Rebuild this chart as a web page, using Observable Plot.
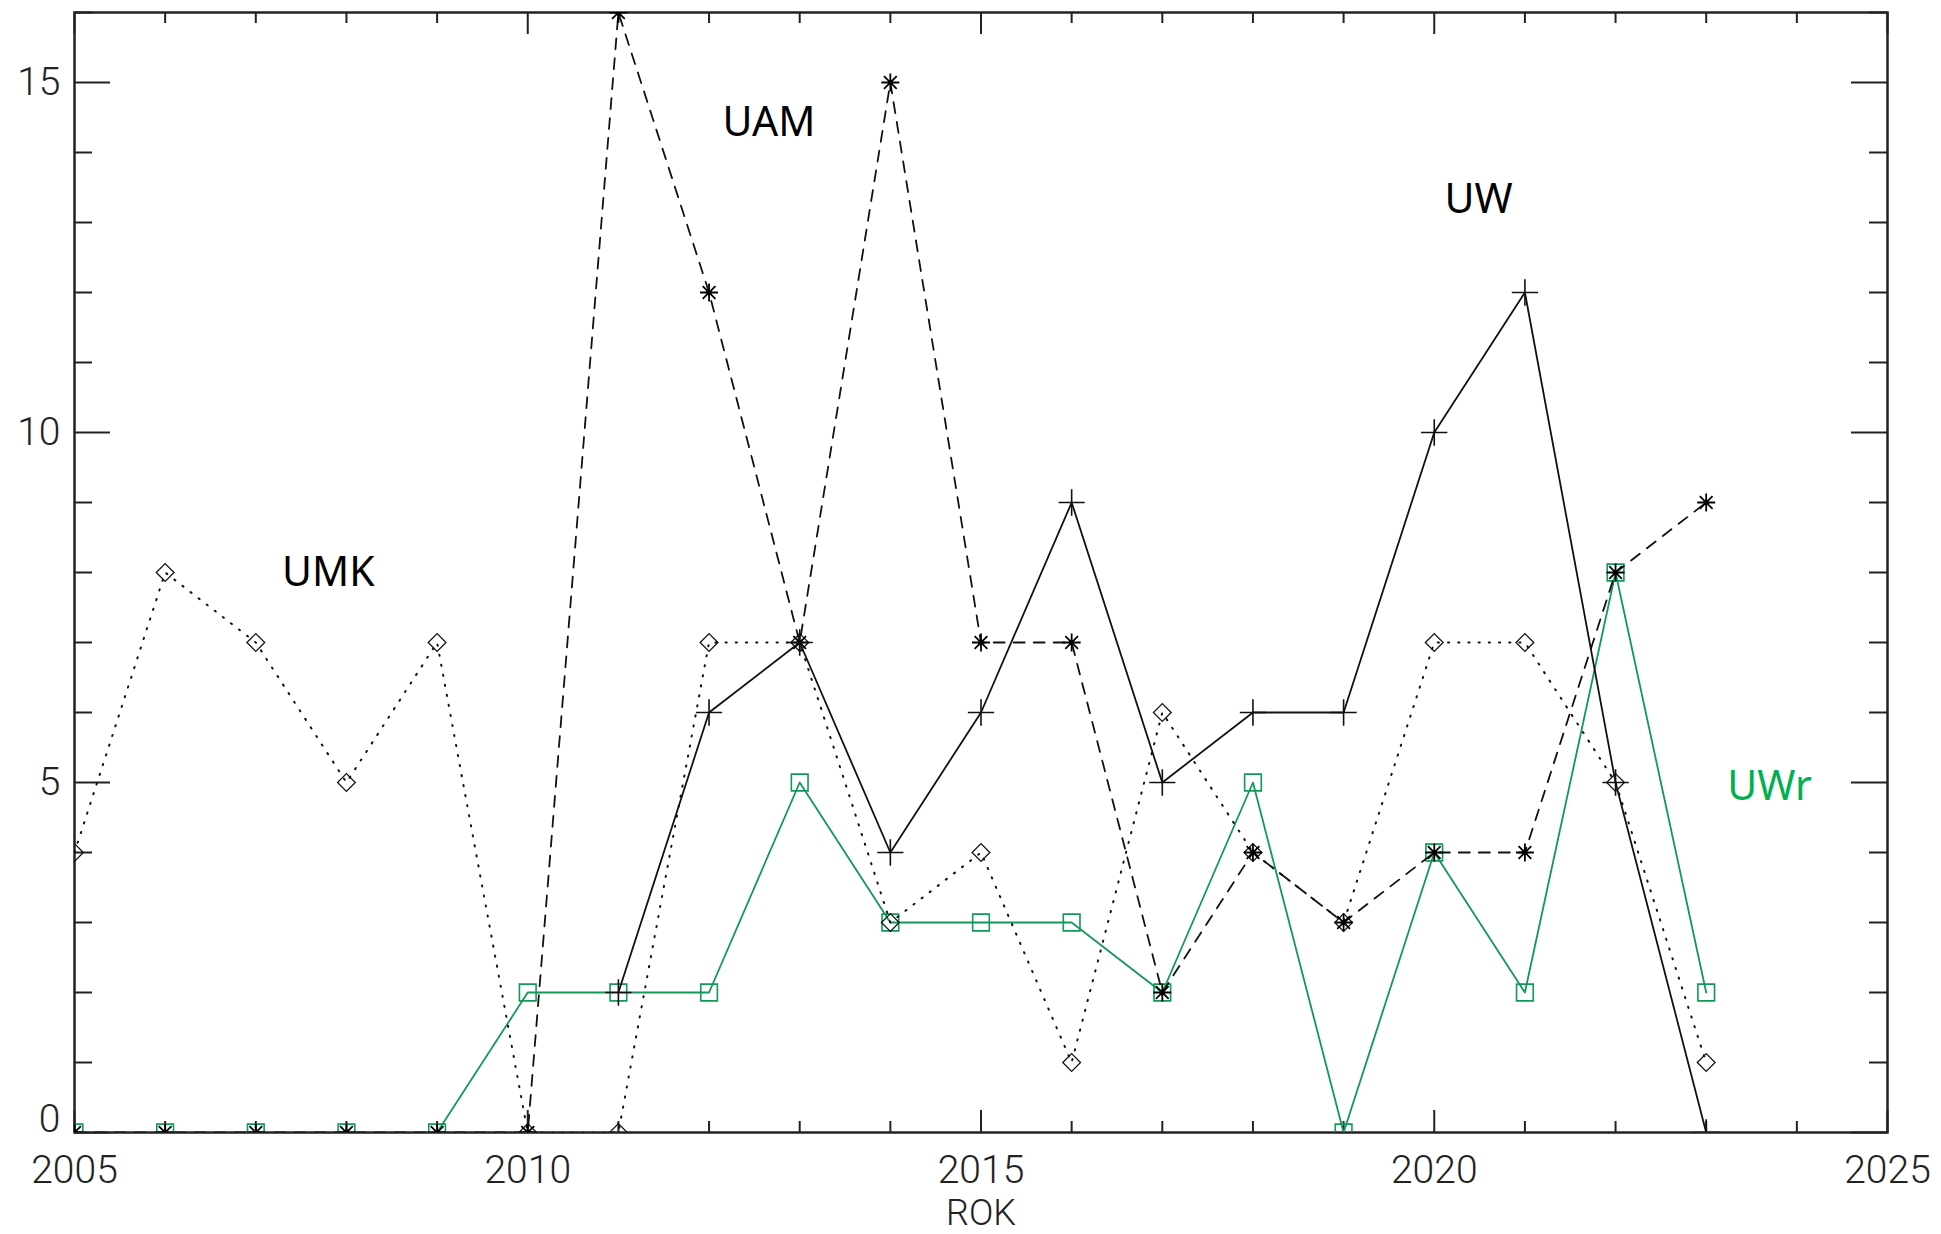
<!DOCTYPE html>
<html>
<head>
<meta charset="utf-8">
<script src="https://cdn.jsdelivr.net/npm/d3@7"></script>
<script src="https://cdn.jsdelivr.net/npm/@observablehq/plot@0.6"></script>
<style>
  html, body { margin: 0; padding: 0; background: #fff; }
  #chart { width: 1941px; height: 1234px; overflow: hidden; }
</style>
</head>
<body>
<div id="chart"></div>
<script>
// ---- data ----
const years = [2005,2006,2007,2008,2009,2010,2011,2012,2013,2014,2015,2016,2017,2018,2019,2020,2021,2022,2023];
const umk = [4,8,7,5,7,0,0,7,7,3,4,1,6,4,3,7,7,5,1];
const uam = [0,0,0,0,0,0,16,12,7,15,7,7,2,4,3,4,4,8,9];
const uw  = [null,null,null,null,null,null,2,6,7,4,6,9,5,6,6,10,12,5,0];
const uwr = [0,0,0,0,0,2,2,2,5,3,3,3,2,5,0,4,2,8,2];

const xMajorTicks = [2005,2010,2015,2020,2025];
const xMinorTicks = [2006,2007,2008,2009,2011,2012,2013,2014,2016,2017,2018,2019,2021,2022,2023,2024];
const yMajorTicks = [0,5,10,15];
const yMinorTicks = [1,2,3,4,6,7,8,9,11,12,13,14,16];

const seriesNames = ["UMK","UAM","UW","UWr"];
const labelX = [2007.8, 2012.66, 2020.49, 2023.7];
const labelY = [8.0, 14.43, 13.33, 4.94];

// ---- layout ----
const W = 1941, H = 1234;
const mL = 74, mR = 54, mT = 12, mB = 102;
const innerW = W - mL - mR, innerH = H - mT - mB;
const axisColor = "#222";
const green = "#13985a";
const labelGreen = "#00b050";

const rows = arr => years.map((yr, i) => ({year: yr, v: arr[i]}));
const dUMK = rows(umk), dUAM = rows(uam), dUW = rows(uw), dUWr = rows(uwr);
const labels = seriesNames.map((n, i) => ({name: n, x: labelX[i], y: labelY[i]}));

const xMajLen = 22, xMinLen = 11, yMajLen = 36, yMinLen = 18;

// eight-armed asterisk (plus + cross), stroke-only
const asterisk8 = {
  draw(ctx, size) {
    const r = Math.sqrt(size / Math.PI);
    const d = r * Math.SQRT1_2;
    ctx.moveTo(0, -r); ctx.lineTo(0, r);
    ctx.moveTo(-r, 0); ctx.lineTo(r, 0);
    ctx.moveTo(-d, -d); ctx.lineTo(d, d);
    ctx.moveTo(-d, d); ctx.lineTo(d, -d);
  }
};

const chart = Plot.plot({
  width: W, height: H,
  marginLeft: mL, marginRight: mR, marginTop: mT, marginBottom: mB,
  x: {domain: [2005, 2025]},
  y: {domain: [0, 16]},
  style: {fontFamily: "Roboto, 'Liberation Sans', sans-serif", fontSize: "39px", fontWeight: 300, color: axisColor, background: "#fff"},
  marks: [
    // inward ticks, all four sides
    Plot.tickX(xMajorTicks, {x: d => d, insetTop: innerH - xMajLen, stroke: axisColor, strokeWidth: 2}),
    Plot.tickX(xMinorTicks, {x: d => d, insetTop: innerH - xMinLen, stroke: axisColor, strokeWidth: 2}),
    Plot.tickX(xMajorTicks, {x: d => d, insetBottom: innerH - xMajLen, stroke: axisColor, strokeWidth: 2}),
    Plot.tickX(xMinorTicks, {x: d => d, insetBottom: innerH - xMinLen, stroke: axisColor, strokeWidth: 2}),
    Plot.tickY(yMajorTicks, {y: d => d, insetRight: innerW - yMajLen, stroke: axisColor, strokeWidth: 2}),
    Plot.tickY(yMinorTicks, {y: d => d, insetRight: innerW - yMinLen, stroke: axisColor, strokeWidth: 2}),
    Plot.tickY(yMajorTicks, {y: d => d, insetLeft: innerW - yMajLen, stroke: axisColor, strokeWidth: 2}),
    Plot.tickY(yMinorTicks, {y: d => d, insetLeft: innerW - yMinLen, stroke: axisColor, strokeWidth: 2}),
    Plot.frame({stroke: axisColor, strokeWidth: 2.5}),
    Plot.axisX({ticks: xMajorTicks, tickSize: 0, tickPadding: 23, tickFormat: d => String(d), label: null}),
    Plot.axisY({ticks: yMajorTicks.filter(t => t !== 0), tickSize: 0, tickPadding: 14, tickFormat: d => String(d), label: null}),
    Plot.axisY({ticks: yMajorTicks.filter(t => t === 0), tickSize: 0, tickPadding: 14, dy: -13, tickFormat: d => String(d), label: null}),
    Plot.text(["ROK"], {frameAnchor: "bottom", dy: 80.5, fontSize: 36, lineAnchor: "middle", fill: axisColor}),

    // UWr (green, squares)
    Plot.line(dUWr, {x: "year", y: "v", stroke: green, strokeWidth: 1.8, clip: true}),
    Plot.dot(dUWr, {x: "year", y: "v", symbol: "square", r: 9.4, stroke: green, fill: "none", strokeWidth: 1.6, clip: true}),
    // UMK (dotted, diamonds)
    Plot.line(dUMK, {x: "year", y: "v", stroke: "#111", strokeWidth: 2, strokeDasharray: "1.2,9", strokeLinecap: "round", clip: true}),
    Plot.dot(dUMK, {x: "year", y: "v", symbol: "diamond2", r: 8, stroke: "#111", fill: "none", strokeWidth: 1.3, clip: true}),
    // UAM (dashed, asterisks)
    Plot.line(dUAM, {x: "year", y: "v", stroke: "#111", strokeWidth: 1.8, strokeDasharray: "11,9", clip: true}),
    Plot.dot(dUAM, {x: "year", y: "v", symbol: asterisk8, r: 9, stroke: "#000", fill: "none", strokeWidth: 1.8, clip: true}),
    Plot.dot(dUAM, {x: "year", y: "v", r: 2.6, fill: "#000", stroke: "none", clip: true}),
    // UW (solid, plus)
    Plot.line(dUW, {x: "year", y: "v", stroke: "#111", strokeWidth: 1.8, clip: true}),
    Plot.dot(dUW, {x: "year", y: "v", symbol: "plus", r: 8.5, stroke: "#111", fill: "none", strokeWidth: 1.6, clip: true}),

    // series labels
    Plot.text(labels, {x: "x", y: "y", text: "name", fontFamily: "'Noto Sans', 'Open Sans', sans-serif", fontSize: 41, fontWeight: 400,
      textAnchor: "middle", lineAnchor: "middle", fill: d => d.name === "UWr" ? labelGreen : "#000"})
  ]
});
document.getElementById("chart").appendChild(chart);
</script>
</body>
</html>
